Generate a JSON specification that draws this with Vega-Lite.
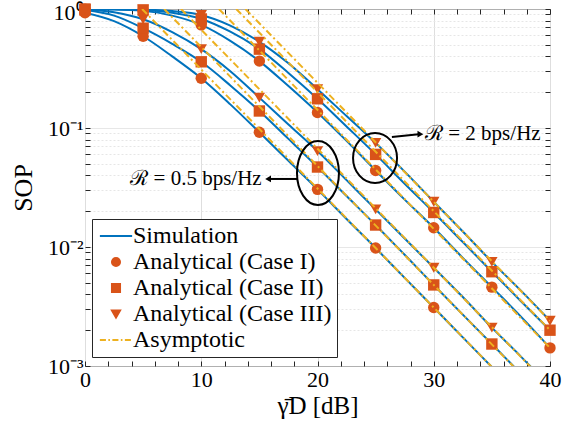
{
  "$schema": "https://vega.github.io/schema/vega-lite/v6.json",
  "width": 465,
  "height": 357,
  "autosize": {"type": "none"},
  "padding": {"left": 85, "top": 9, "right": 23, "bottom": 61},
  "background": "white",
  "config": {
    "view": {"stroke": "#262626", "strokeWidth": 1},
    "font": "Liberation Serif",
    "axis": {"labelFont": "Liberation Serif", "titleFont": "Liberation Serif", "labelColor": "#000000", "titleColor": "#000000", "titleFontWeight": "normal", "tickColor": "#262626", "domain": false, "labelOverlap": false, "labelFlush": false}
  },
  "datasets": {
    "sim": [
      {"curve": "A1", "legend": "Simulation", "x": 0, "y": 0.93}, {"curve": "A1", "legend": "Simulation", "x": 2.5, "y": 0.79}, {"curve": "A1", "legend": "Simulation", "x": 5, "y": 0.59}, {"curve": "A1", "legend": "Simulation", "x": 7.5, "y": 0.40}, {"curve": "A1", "legend": "Simulation", "x": 10, "y": 0.262}, {"curve": "A1", "legend": "Simulation", "x": 12.5, "y": 0.158}, {"curve": "A1", "legend": "Simulation", "x": 15, "y": 0.092}, {"curve": "A1", "legend": "Simulation", "x": 17.5, "y": 0.053}, {"curve": "A1", "legend": "Simulation", "x": 20, "y": 0.0305}, {"curve": "A1", "legend": "Simulation", "x": 22.5, "y": 0.0172}, {"curve": "A1", "legend": "Simulation", "x": 25, "y": 0.0098}, {"curve": "A1", "legend": "Simulation", "x": 27.5, "y": 0.0055}, {"curve": "A1", "legend": "Simulation", "x": 30, "y": 0.0031}, {"curve": "A1", "legend": "Simulation", "x": 32.5, "y": 0.00174}, {"curve": "A1", "legend": "Simulation", "x": 35, "y": 0.00098}, {"curve": "A1", "legend": "Simulation", "x": 37.5, "y": 0.00055}, {"curve": "A1", "legend": "Simulation", "x": 40, "y": 0.00031},
      {"curve": "A2", "legend": "Simulation", "x": 0, "y": 0.98}, {"curve": "A2", "legend": "Simulation", "x": 2.5, "y": 0.88}, {"curve": "A2", "legend": "Simulation", "x": 5, "y": 0.69}, {"curve": "A2", "legend": "Simulation", "x": 7.5, "y": 0.51}, {"curve": "A2", "legend": "Simulation", "x": 10, "y": 0.36}, {"curve": "A2", "legend": "Simulation", "x": 12.5, "y": 0.228}, {"curve": "A2", "legend": "Simulation", "x": 15, "y": 0.139}, {"curve": "A2", "legend": "Simulation", "x": 17.5, "y": 0.081}, {"curve": "A2", "legend": "Simulation", "x": 20, "y": 0.047}, {"curve": "A2", "legend": "Simulation", "x": 22.5, "y": 0.0268}, {"curve": "A2", "legend": "Simulation", "x": 25, "y": 0.0153}, {"curve": "A2", "legend": "Simulation", "x": 27.5, "y": 0.0086}, {"curve": "A2", "legend": "Simulation", "x": 30, "y": 0.0048}, {"curve": "A2", "legend": "Simulation", "x": 32.5, "y": 0.0027}, {"curve": "A2", "legend": "Simulation", "x": 35, "y": 0.00153}, {"curve": "A2", "legend": "Simulation", "x": 37.5, "y": 0.00086}, {"curve": "A2", "legend": "Simulation", "x": 40, "y": 0.00048},
      {"curve": "A3", "legend": "Simulation", "x": 0, "y": 0.99}, {"curve": "A3", "legend": "Simulation", "x": 2.5, "y": 0.94}, {"curve": "A3", "legend": "Simulation", "x": 5, "y": 0.82}, {"curve": "A3", "legend": "Simulation", "x": 7.5, "y": 0.64}, {"curve": "A3", "legend": "Simulation", "x": 10, "y": 0.46}, {"curve": "A3", "legend": "Simulation", "x": 12.5, "y": 0.30}, {"curve": "A3", "legend": "Simulation", "x": 15, "y": 0.18}, {"curve": "A3", "legend": "Simulation", "x": 17.5, "y": 0.107}, {"curve": "A3", "legend": "Simulation", "x": 20, "y": 0.064}, {"curve": "A3", "legend": "Simulation", "x": 22.5, "y": 0.0365}, {"curve": "A3", "legend": "Simulation", "x": 25, "y": 0.0207}, {"curve": "A3", "legend": "Simulation", "x": 27.5, "y": 0.0118}, {"curve": "A3", "legend": "Simulation", "x": 30, "y": 0.0067}, {"curve": "A3", "legend": "Simulation", "x": 32.5, "y": 0.0038}, {"curve": "A3", "legend": "Simulation", "x": 35, "y": 0.0021}, {"curve": "A3", "legend": "Simulation", "x": 37.5, "y": 0.0012}, {"curve": "A3", "legend": "Simulation", "x": 40, "y": 0.00067},
      {"curve": "B1", "legend": "Simulation", "x": 0, "y": 0.995}, {"curve": "B1", "legend": "Simulation", "x": 2.5, "y": 0.99}, {"curve": "B1", "legend": "Simulation", "x": 5, "y": 0.965}, {"curve": "B1", "legend": "Simulation", "x": 7.5, "y": 0.88}, {"curve": "B1", "legend": "Simulation", "x": 10, "y": 0.735}, {"curve": "B1", "legend": "Simulation", "x": 12.5, "y": 0.54}, {"curve": "B1", "legend": "Simulation", "x": 15, "y": 0.365}, {"curve": "B1", "legend": "Simulation", "x": 17.5, "y": 0.225}, {"curve": "B1", "legend": "Simulation", "x": 20, "y": 0.135}, {"curve": "B1", "legend": "Simulation", "x": 22.5, "y": 0.078}, {"curve": "B1", "legend": "Simulation", "x": 25, "y": 0.044}, {"curve": "B1", "legend": "Simulation", "x": 27.5, "y": 0.025}, {"curve": "B1", "legend": "Simulation", "x": 30, "y": 0.0145}, {"curve": "B1", "legend": "Simulation", "x": 32.5, "y": 0.0081}, {"curve": "B1", "legend": "Simulation", "x": 35, "y": 0.0046}, {"curve": "B1", "legend": "Simulation", "x": 37.5, "y": 0.0026}, {"curve": "B1", "legend": "Simulation", "x": 40, "y": 0.00142},
      {"curve": "B2", "legend": "Simulation", "x": 0, "y": 1.0}, {"curve": "B2", "legend": "Simulation", "x": 2.5, "y": 0.997}, {"curve": "B2", "legend": "Simulation", "x": 5, "y": 0.98}, {"curve": "B2", "legend": "Simulation", "x": 7.5, "y": 0.93}, {"curve": "B2", "legend": "Simulation", "x": 10, "y": 0.825}, {"curve": "B2", "legend": "Simulation", "x": 12.5, "y": 0.645}, {"curve": "B2", "legend": "Simulation", "x": 15, "y": 0.46}, {"curve": "B2", "legend": "Simulation", "x": 17.5, "y": 0.29}, {"curve": "B2", "legend": "Simulation", "x": 20, "y": 0.176}, {"curve": "B2", "legend": "Simulation", "x": 22.5, "y": 0.103}, {"curve": "B2", "legend": "Simulation", "x": 25, "y": 0.060}, {"curve": "B2", "legend": "Simulation", "x": 27.5, "y": 0.034}, {"curve": "B2", "legend": "Simulation", "x": 30, "y": 0.0195}, {"curve": "B2", "legend": "Simulation", "x": 32.5, "y": 0.011}, {"curve": "B2", "legend": "Simulation", "x": 35, "y": 0.0062}, {"curve": "B2", "legend": "Simulation", "x": 37.5, "y": 0.0035}, {"curve": "B2", "legend": "Simulation", "x": 40, "y": 0.0020},
      {"curve": "B3", "legend": "Simulation", "x": 0, "y": 1.0}, {"curve": "B3", "legend": "Simulation", "x": 2.5, "y": 0.999}, {"curve": "B3", "legend": "Simulation", "x": 5, "y": 0.99}, {"curve": "B3", "legend": "Simulation", "x": 7.5, "y": 0.96}, {"curve": "B3", "legend": "Simulation", "x": 10, "y": 0.89}, {"curve": "B3", "legend": "Simulation", "x": 12.5, "y": 0.725}, {"curve": "B3", "legend": "Simulation", "x": 15, "y": 0.53}, {"curve": "B3", "legend": "Simulation", "x": 17.5, "y": 0.35}, {"curve": "B3", "legend": "Simulation", "x": 20, "y": 0.212}, {"curve": "B3", "legend": "Simulation", "x": 22.5, "y": 0.126}, {"curve": "B3", "legend": "Simulation", "x": 25, "y": 0.075}, {"curve": "B3", "legend": "Simulation", "x": 27.5, "y": 0.043}, {"curve": "B3", "legend": "Simulation", "x": 30, "y": 0.024}, {"curve": "B3", "legend": "Simulation", "x": 32.5, "y": 0.0135}, {"curve": "B3", "legend": "Simulation", "x": 35, "y": 0.0075}, {"curve": "B3", "legend": "Simulation", "x": 37.5, "y": 0.0043}, {"curve": "B3", "legend": "Simulation", "x": 40, "y": 0.0024}
    ],
    "pts": [
      {"legend": "Analytical (Case I)", "x": 0, "y": 0.93}, {"legend": "Analytical (Case I)", "x": 5, "y": 0.59}, {"legend": "Analytical (Case I)", "x": 10, "y": 0.262}, {"legend": "Analytical (Case I)", "x": 15, "y": 0.092}, {"legend": "Analytical (Case I)", "x": 20, "y": 0.0305}, {"legend": "Analytical (Case I)", "x": 25, "y": 0.0098}, {"legend": "Analytical (Case I)", "x": 30, "y": 0.0031},
      {"legend": "Analytical (Case II)", "x": 0, "y": 0.98}, {"legend": "Analytical (Case II)", "x": 5, "y": 0.69}, {"legend": "Analytical (Case II)", "x": 10, "y": 0.36}, {"legend": "Analytical (Case II)", "x": 15, "y": 0.139}, {"legend": "Analytical (Case II)", "x": 20, "y": 0.047}, {"legend": "Analytical (Case II)", "x": 25, "y": 0.0153}, {"legend": "Analytical (Case II)", "x": 30, "y": 0.0048}, {"legend": "Analytical (Case II)", "x": 35, "y": 0.00153},
      {"legend": "Analytical (Case III)", "x": 0, "y": 0.99}, {"legend": "Analytical (Case III)", "x": 5, "y": 0.82}, {"legend": "Analytical (Case III)", "x": 10, "y": 0.46}, {"legend": "Analytical (Case III)", "x": 15, "y": 0.18}, {"legend": "Analytical (Case III)", "x": 20, "y": 0.064}, {"legend": "Analytical (Case III)", "x": 25, "y": 0.0207}, {"legend": "Analytical (Case III)", "x": 30, "y": 0.0067}, {"legend": "Analytical (Case III)", "x": 35, "y": 0.0021},
      {"legend": "Analytical (Case I)", "x": 0, "y": 0.995}, {"legend": "Analytical (Case I)", "x": 5, "y": 0.965}, {"legend": "Analytical (Case I)", "x": 10, "y": 0.735}, {"legend": "Analytical (Case I)", "x": 15, "y": 0.365}, {"legend": "Analytical (Case I)", "x": 20, "y": 0.135}, {"legend": "Analytical (Case I)", "x": 25, "y": 0.044}, {"legend": "Analytical (Case I)", "x": 30, "y": 0.0145}, {"legend": "Analytical (Case I)", "x": 35, "y": 0.0046}, {"legend": "Analytical (Case I)", "x": 40, "y": 0.00142},
      {"legend": "Analytical (Case II)", "x": 0, "y": 1.0}, {"legend": "Analytical (Case II)", "x": 5, "y": 0.98}, {"legend": "Analytical (Case II)", "x": 10, "y": 0.825}, {"legend": "Analytical (Case II)", "x": 15, "y": 0.46}, {"legend": "Analytical (Case II)", "x": 20, "y": 0.176}, {"legend": "Analytical (Case II)", "x": 25, "y": 0.060}, {"legend": "Analytical (Case II)", "x": 30, "y": 0.0195}, {"legend": "Analytical (Case II)", "x": 35, "y": 0.0062}, {"legend": "Analytical (Case II)", "x": 40, "y": 0.0020},
      {"legend": "Analytical (Case III)", "x": 0, "y": 1.0}, {"legend": "Analytical (Case III)", "x": 5, "y": 0.99}, {"legend": "Analytical (Case III)", "x": 10, "y": 0.89}, {"legend": "Analytical (Case III)", "x": 15, "y": 0.53}, {"legend": "Analytical (Case III)", "x": 20, "y": 0.212}, {"legend": "Analytical (Case III)", "x": 25, "y": 0.075}, {"legend": "Analytical (Case III)", "x": 30, "y": 0.024}, {"legend": "Analytical (Case III)", "x": 35, "y": 0.0075}, {"legend": "Analytical (Case III)", "x": 40, "y": 0.0024}
    ],
    "asym": [
      {"curve": "A1", "legend": "Asymptotic", "x": 4.91, "y": 1}, {"curve": "A1", "legend": "Asymptotic", "x": 40, "y": 0.00031},
      {"curve": "A2", "legend": "Asymptotic", "x": 6.81, "y": 1}, {"curve": "A2", "legend": "Asymptotic", "x": 40, "y": 0.00048},
      {"curve": "A3", "legend": "Asymptotic", "x": 8.26, "y": 1}, {"curve": "A3", "legend": "Asymptotic", "x": 40, "y": 0.00067},
      {"curve": "B1", "legend": "Asymptotic", "x": 11.52, "y": 1}, {"curve": "B1", "legend": "Asymptotic", "x": 40, "y": 0.00142},
      {"curve": "B2", "legend": "Asymptotic", "x": 13.01, "y": 1}, {"curve": "B2", "legend": "Asymptotic", "x": 40, "y": 0.0020},
      {"curve": "B3", "legend": "Asymptotic", "x": 13.80, "y": 1}, {"curve": "B3", "legend": "Asymptotic", "x": 40, "y": 0.0024}
    ],
    "ell1": [{"x": 20.04, "y": 0.0419}],
    "ell2": [{"x": 24.95, "y": 0.056}],
    "arrows": [
      {"x": 18.3, "y": 0.0373, "x2": 15.9, "y2": 0.0373},
      {"x": 26.4, "y": 0.084, "x2": 28.7, "y2": 0.0885}
    ],
    "headL": [{"x": 15.75, "y": 0.0373}],
    "headR": [{"x": 28.85, "y": 0.0888}],
    "txtL": [{"x": 15.2, "y": 0.0373, "label": "ℛ = 0.5 bps/Hz"}],
    "txtR": [{"x": 29.25, "y": 0.0891, "label": "ℛ = 2 bps/Hz"}]
  },
  "layer": [
    {
      "encoding": {
        "x": {
          "field": "x", "type": "quantitative",
          "scale": {"domain": [0, 40], "nice": false, "zero": false},
          "axis": {
            "orient": "bottom",
            "values": [0, 2, 4, 6, 8, 10, 12, 14, 16, 18, 20, 22, 24, 26, 28, 30, 32, 34, 36, 38, 40],
            "labelExpr": "datum.value % 10 == 0 ? datum.label : ''",
            "grid": true,
            "gridColor": {"condition": {"test": "datum.value % 10 == 0", "value": "#dedede"}, "value": "transparent"},
            "tickSize": -5,
            "labelFont": "Liberation Serif",
            "labelFontSize": 22,
            "labelPadding": 8,
            "title": "γ̄D [dB]",
            "titleFont": "Liberation Serif",
            "titleFontSize": 25,
            "titlePadding": 3
          }
        },
        "y": {
          "field": "y", "type": "quantitative",
          "scale": {"type": "log", "domain": [0.001, 1], "nice": false},
          "axis": {
            "orient": "left",
            "values": [0.001, 0.002, 0.003, 0.004, 0.005, 0.006, 0.007, 0.008, 0.009, 0.01, 0.02, 0.03, 0.04, 0.05, 0.06, 0.07, 0.08, 0.09, 0.1, 0.2, 0.3, 0.4, 0.5, 0.6, 0.7, 0.8, 0.9, 1],
            "labelExpr": "datum.value == 1 ? '10⁰' : datum.value == 0.1 ? '10⁻¹' : datum.value == 0.01 ? '10⁻²' : datum.value == 0.001 ? '10⁻³' : ''",
            "labelOffset": {"condition": {"test": "datum.value == 1", "value": 3}, "value": 0},
            "grid": true,
            "gridColor": {"condition": {"test": "datum.value == 1 || datum.value == 0.1 || datum.value == 0.01 || datum.value == 0.001", "value": "#dedede"}, "value": "#e6e6e6"},
            "gridDash": {"condition": {"test": "datum.value == 1 || datum.value == 0.1 || datum.value == 0.01 || datum.value == 0.001", "value": [1, 0]}, "value": [2, 2]},
            "tickSize": -5,
            "labelFont": "Liberation Serif",
            "labelFontSize": 22,
            "labelPadding": 7,
            "title": "SOP",
            "titleFont": "Liberation Serif",
            "titleFontSize": 26,
            "titlePadding": 11
          }
        }
      },
      "layer": [
        {
          "data": {"name": "sim"},
          "mark": {"type": "line", "strokeWidth": 2, "clip": true, "interpolate": "monotone"},
          "encoding": {
            "detail": {"field": "curve", "type": "nominal"},
            "color": {
              "field": "legend", "type": "nominal",
              "scale": {"domain": ["Simulation", "Analytical (Case I)", "Analytical (Case II)", "Analytical (Case III)", "Asymptotic"], "range": ["#0072BD", "#D95319", "#D95319", "#D95319", "#EDB120"]},
              "legend": {"title": null, "orient": "none", "legendX": 7, "legendY": 210, "fillColor": "white", "strokeColor": "#262626", "padding": 5, "labelFont": "Liberation Serif", "labelFontSize": 24, "labelColor": "#000000", "labelLimit": 0, "symbolSize": 65, "symbolOpacity": 1, "symbolStrokeWidth": 2, "symbolOffset": 7, "labelOffset": 5, "rowPadding": 2, "encode": {"symbols": {"update": {"stroke": {"scale": "color", "field": "value"}, "strokeWidth": {"value": 2}}}}}
            }
          }
        },
        {
          "data": {"name": "pts"},
          "mark": {"type": "point", "filled": true, "size": 130, "opacity": 1, "clip": false},
          "encoding": {
            "color": {
              "field": "legend", "type": "nominal",
              "scale": {"domain": ["Simulation", "Analytical (Case I)", "Analytical (Case II)", "Analytical (Case III)", "Asymptotic"], "range": ["#0072BD", "#D95319", "#D95319", "#D95319", "#EDB120"]},
              "legend": {"title": null, "orient": "none", "legendX": 7, "legendY": 210, "fillColor": "white", "strokeColor": "#262626", "padding": 5, "labelFont": "Liberation Serif", "labelFontSize": 24, "labelColor": "#000000", "labelLimit": 0, "symbolSize": 65, "symbolOpacity": 1, "symbolStrokeWidth": 2, "symbolOffset": 7, "labelOffset": 5, "rowPadding": 2, "encode": {"symbols": {"update": {"stroke": {"scale": "color", "field": "value"}, "strokeWidth": {"value": 2}}}}}
            },
            "shape": {
              "field": "legend", "type": "nominal",
              "scale": {"domain": ["Simulation", "Analytical (Case I)", "Analytical (Case II)", "Analytical (Case III)", "Asymptotic"], "range": ["M-4,0H4", "circle", "square", "triangle-down", "M-4,0H-2.5M-1.9,0H-1.5M-0.9,0H0.6M1.2,0H1.6M2.2,0H3.7"]},
              "legend": {"title": null, "orient": "none", "legendX": 7, "legendY": 210, "fillColor": "white", "strokeColor": "#262626", "padding": 5, "labelFont": "Liberation Serif", "labelFontSize": 24, "labelColor": "#000000", "labelLimit": 0, "symbolSize": 65, "symbolOpacity": 1, "symbolStrokeWidth": 2, "symbolOffset": 7, "labelOffset": 5, "rowPadding": 2, "encode": {"symbols": {"update": {"stroke": {"scale": "color", "field": "value"}, "strokeWidth": {"value": 2}}}}}
            }
          }
        },
        {
          "data": {"name": "asym"},
          "mark": {"type": "line", "strokeWidth": 2, "clip": true, "strokeDash": [7, 3, 2, 3]},
          "encoding": {
            "detail": {"field": "curve", "type": "nominal"},
            "color": {
              "field": "legend", "type": "nominal",
              "scale": {"domain": ["Simulation", "Analytical (Case I)", "Analytical (Case II)", "Analytical (Case III)", "Asymptotic"], "range": ["#0072BD", "#D95319", "#D95319", "#D95319", "#EDB120"]},
              "legend": {"title": null, "orient": "none", "legendX": 7, "legendY": 210, "fillColor": "white", "strokeColor": "#262626", "padding": 5, "labelFont": "Liberation Serif", "labelFontSize": 24, "labelColor": "#000000", "labelLimit": 0, "symbolSize": 65, "symbolOpacity": 1, "symbolStrokeWidth": 2, "symbolOffset": 7, "labelOffset": 5, "rowPadding": 2, "encode": {"symbols": {"update": {"stroke": {"scale": "color", "field": "value"}, "strokeWidth": {"value": 2}}}}}
            }
          }
        },
        {
          "data": {"name": "ell1"},
          "mark": {"type": "point", "shape": "M-0.656,0A0.656,1,0,1,0,0.656,0A0.656,1,0,1,0,-0.656,0Z", "size": 4096, "filled": false, "stroke": "#000000", "strokeWidth": 2, "opacity": 1}
        },
        {
          "data": {"name": "ell2"},
          "mark": {"type": "point", "shape": "M-0.88,0A0.88,1,0,1,0,0.88,0A0.88,1,0,1,0,-0.88,0Z", "size": 2500, "filled": false, "stroke": "#000000", "strokeWidth": 2, "opacity": 1}
        },
        {
          "data": {"name": "arrows"},
          "mark": {"type": "rule", "stroke": "#000000", "strokeWidth": 2},
          "encoding": {"x2": {"field": "x2"}, "y2": {"field": "y2"}}
        },
        {
          "data": {"name": "headL"},
          "mark": {"type": "point", "shape": "triangle-left", "size": 45, "filled": true, "color": "#000000", "opacity": 1}
        },
        {
          "data": {"name": "headR"},
          "mark": {"type": "point", "shape": "triangle-right", "size": 45, "filled": true, "color": "#000000", "opacity": 1}
        },
        {
          "data": {"name": "txtL"},
          "mark": {"type": "text", "align": "right", "baseline": "middle", "font": "Liberation Serif", "fontSize": 21, "color": "#000000"},
          "encoding": {"text": {"field": "label"}}
        },
        {
          "data": {"name": "txtR"},
          "mark": {"type": "text", "align": "left", "baseline": "middle", "font": "Liberation Serif", "fontSize": 21, "color": "#000000"},
          "encoding": {"text": {"field": "label"}}
        }
      ]
    },
    {
      "data": {"name": "ell1"},
      "mark": {"type": "point", "opacity": 0},
      "encoding": {
        "x": {
          "field": "x", "type": "quantitative",
          "scale": {"domain": [0, 40], "nice": false, "zero": false},
          "axis": {"orient": "top", "values": [0, 2, 4, 6, 8, 10, 12, 14, 16, 18, 20, 22, 24, 26, 28, 30, 32, 34, 36, 38, 40], "labels": false, "grid": false, "tickSize": -5, "title": null}
        },
        "y": {
          "field": "y", "type": "quantitative",
          "scale": {"type": "log", "domain": [0.001, 1], "nice": false},
          "axis": {"orient": "right", "values": [0.001, 0.002, 0.003, 0.004, 0.005, 0.006, 0.007, 0.008, 0.009, 0.01, 0.02, 0.03, 0.04, 0.05, 0.06, 0.07, 0.08, 0.09, 0.1, 0.2, 0.3, 0.4, 0.5, 0.6, 0.7, 0.8, 0.9, 1], "labels": false, "grid": false, "tickSize": -5, "title": null}
        }
      }
    }
  ],
  "resolve": {"axis": {"x": "independent", "y": "independent"}}
}
